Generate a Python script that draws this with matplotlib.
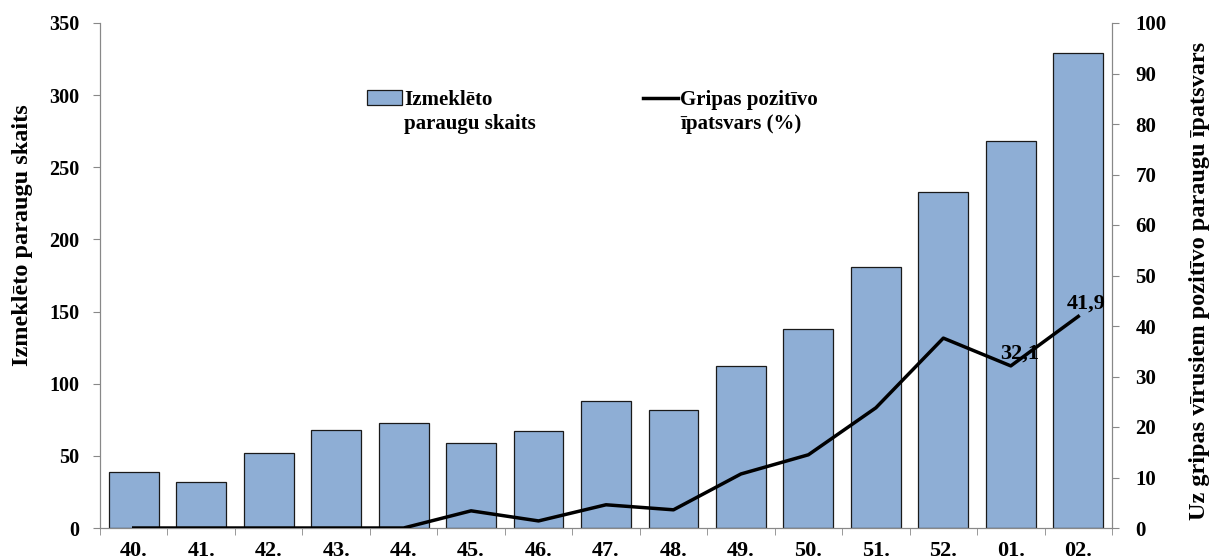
import numpy as np
import matplotlib.pyplot as plt
from matplotlib.transforms import IdentityTransform

plt.rcParams['font.family'] = ['Liberation Serif', 'DejaVu Serif']
plt.rcParams['font.weight'] = 'bold'

weeks = ['40.', '41.', '42.', '43.', '44.', '45.', '46.', '47.', '48.', '49.',
         '50.', '51.', '52.', '01.', '02.']
samples = [39, 32, 52, 68, 73, 59, 67, 88, 82, 112, 138, 181, 233, 268, 329]
positive_pct = [0, 0, 0, 0, 0, 3.4, 1.4, 4.6, 3.6, 10.7, 14.5, 23.8, 37.6, 32.1, 41.9]
labelled = {13: '32,1', 14: '41,9'}

fig = plt.figure(figsize=(12.17, 5.6), dpi=100)
ax = fig.add_axes([100 / 1217, 32 / 560, 1012 / 1217, 505 / 560])
x = np.arange(len(weeks))

ax.bar(x, samples, width=0.74, color='#8EAED5', edgecolor='#1a1a1a', linewidth=0.9,
       label='Izmeklēto', zorder=2)
ax.set_xlim(-0.5, len(weeks) - 0.5)
ax.set_ylim(0, 350)
ax.set_yticks(range(0, 351, 50))
ax.set_xticks(x)
ax.set_xticklabels(weeks, fontsize=16, fontweight='bold')
ax.set_xticks(np.arange(-0.5, len(weeks), 1), minor=True)
ax.tick_params(axis='x', which='major', length=0, pad=9)
ax.tick_params(axis='x', which='minor', length=5, color='#888888')
ax.tick_params(axis='y', length=5, color='#888888', labelsize=14.5, pad=10)
ax.set_ylabel('Izmeklēto paraugu skaits', fontsize=17.5, fontweight='bold')
ax.yaxis.set_label_coords(-0.066, 0.58)

ax2 = ax.twinx()
ax2.plot(x, positive_pct, color='black', linewidth=2.5, zorder=3,
         label='Gripas pozitīvo')
ax2.set_ylim(0, 100)
ax2.set_yticks(range(0, 101, 10))
ax2.tick_params(axis='y', length=5, color='#888888', labelsize=15, pad=12)
ax2.set_ylabel('Uz gripas vīrusiem pozitīvo paraugu īpatsvars', fontsize=17.5,
               fontweight='bold')
ax2.yaxis.set_label_coords(1.076, 0.49)
for i, txt in labelled.items():
    ax2.annotate(txt, (x[i], positive_pct[i]), xytext=(6, 2), textcoords='offset points',
                 ha='center', va='bottom', fontsize=16, fontweight='bold')

for a in (ax, ax2):
    for s in a.spines.values():
        s.set_color('#888888')
    a.spines['top'].set_visible(False)
    for lab in a.get_yticklabels():
        lab.set_fontweight('bold')

h1, l1 = ax.get_legend_handles_labels()
h2, l2 = ax2.get_legend_handles_labels()
leg = ax.legend(h1 + h2, l1 + l2, ncol=2, frameon=False, loc='upper left',
                bbox_to_anchor=(367 / 1217, 1 - 90 / 560), bbox_transform=fig.transFigure,
                borderpad=0, borderaxespad=0, handlelength=1.7, handletextpad=0.1,
                columnspacing=7.2, prop={'weight': 'bold', 'size': 15})

# second lines of the legend labels, under the first ones
fig.canvas.draw()
for t, extra in zip(leg.get_texts(), ['paraugu skaits', 'īpatsvars (%)']):
    bb = t.get_window_extent()
    fig.text(bb.x0, bb.y0 - 24, extra, transform=IdentityTransform(), va='bottom',
             fontsize=15, fontweight='bold')

fig.savefig('out.png', dpi=100)
